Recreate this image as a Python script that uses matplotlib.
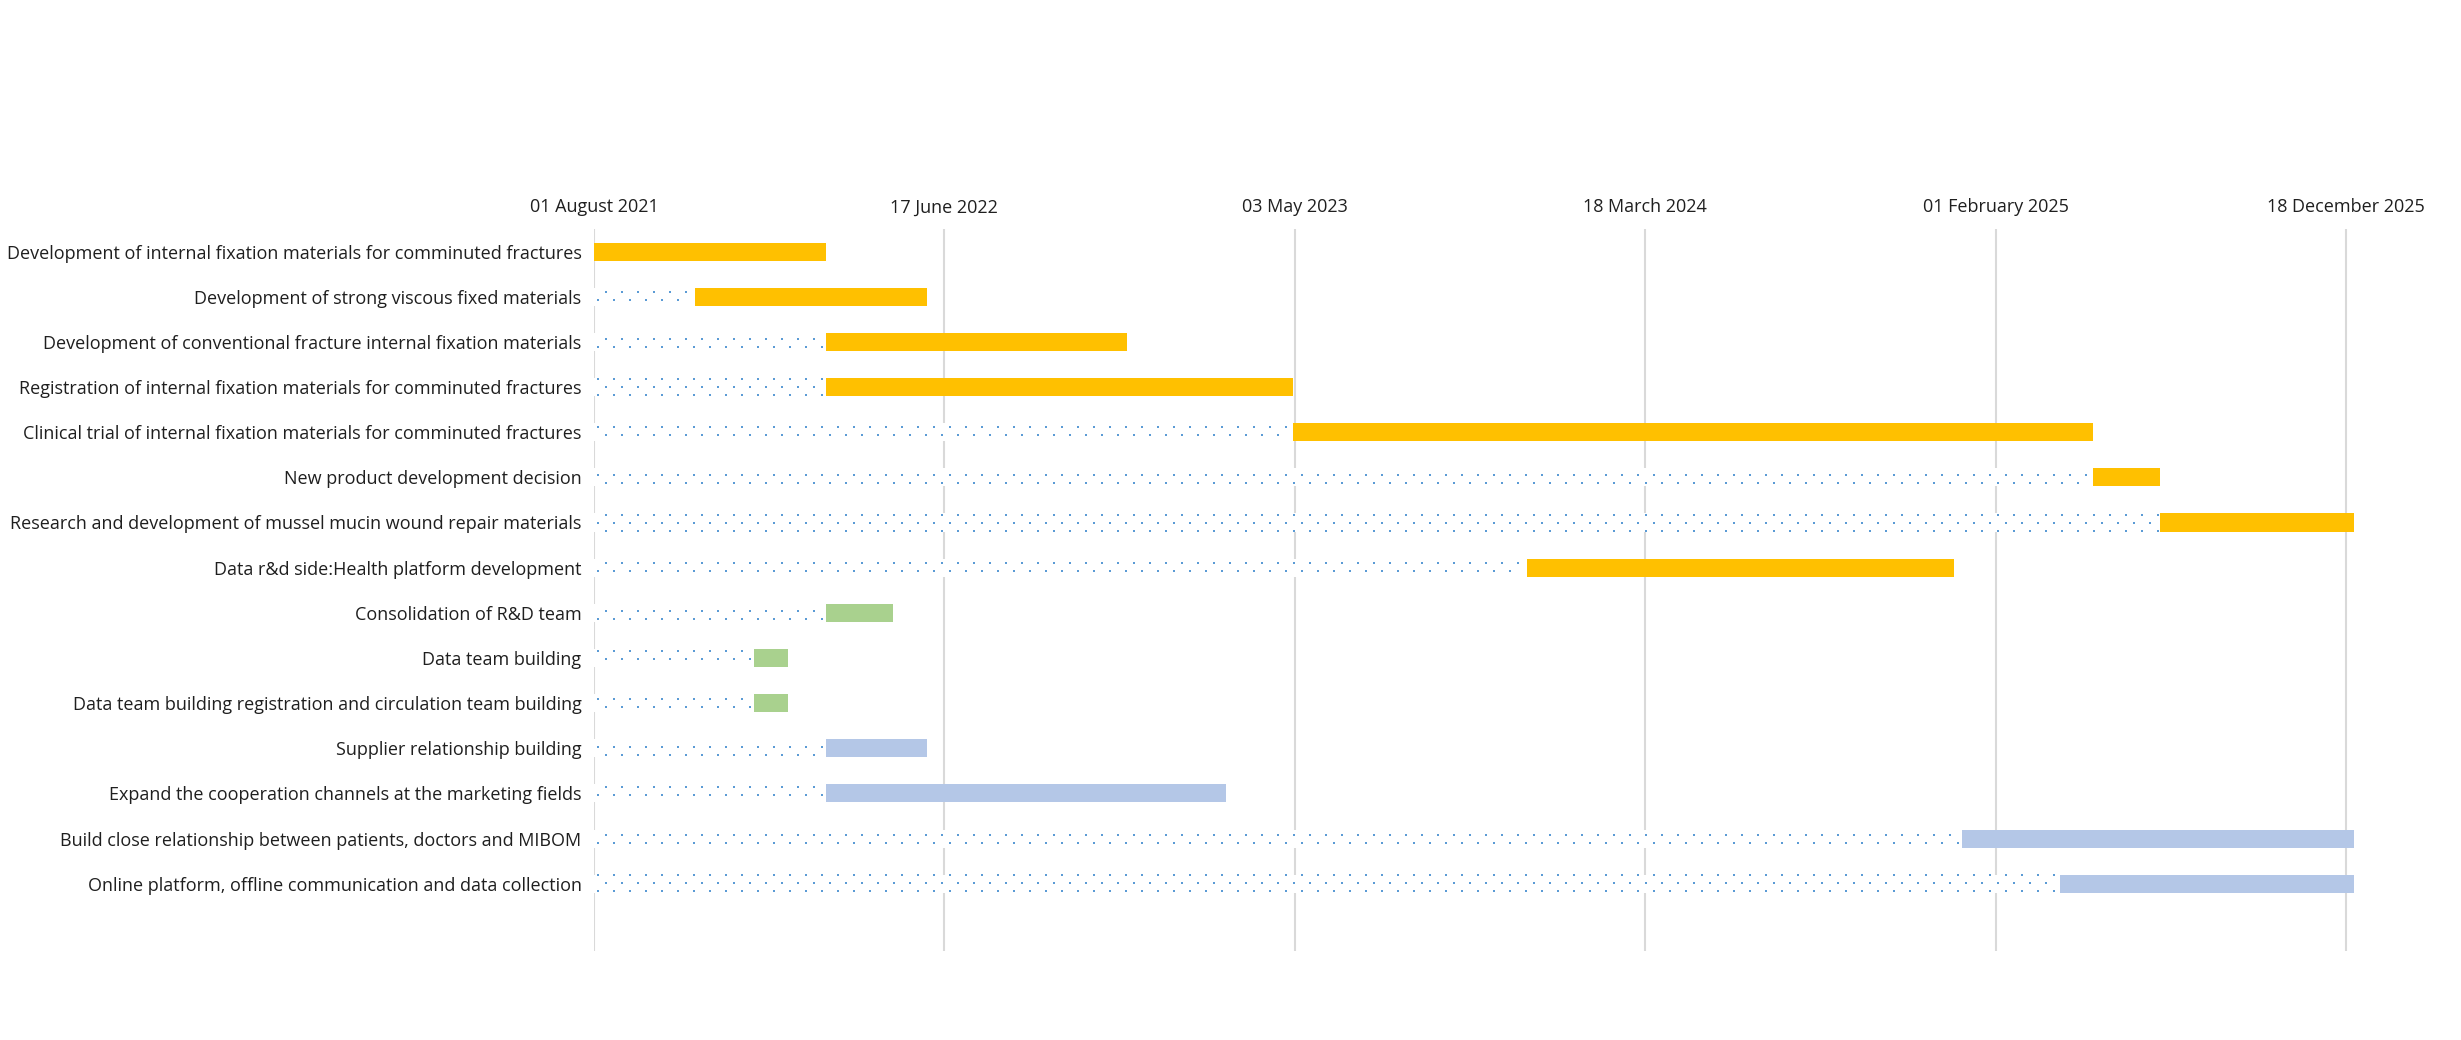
import matplotlib

matplotlib.use("Agg")
import matplotlib.dates as mdates
import matplotlib.pyplot as plt
import numpy as np

tasks = [
    "Development of internal fixation materials for comminuted fractures",
    "Development of strong viscous fixed materials",
    "Development of conventional fracture internal fixation materials",
    "Registration of internal fixation materials for comminuted fractures",
    "Clinical trial of internal fixation materials for comminuted fractures",
    "New product development decision",
    "Research and development of mussel mucin wound repair materials",
    "Data r&d side:Health platform development",
    "Consolidation of R&D team",
    "Data team building",
    "Data team building registration and circulation team building",
    "Supplier relationship building",
    "Expand the cooperation channels at the marketing fields",
    "Build close relationship between patients, doctors and MIBOM",
    "Online platform, offline communication and data collection",
]
starts = [
    "2021-08-01", "2021-11-01", "2022-03-01", "2022-03-01", "2023-05-01",
    "2025-05-01", "2025-07-01", "2023-12-01", "2022-03-01", "2021-12-25",
    "2021-12-25", "2022-03-01", "2022-03-01", "2025-01-01", "2025-04-01",
]
ends = [
    "2022-03-01", "2022-06-01", "2022-12-01", "2023-05-01", "2025-05-01",
    "2025-07-01", "2025-12-25", "2024-12-25", "2022-05-01", "2022-01-25",
    "2022-01-25", "2022-06-01", "2023-03-01", "2025-12-25", "2025-12-25",
]
groups = ["rd"] * 8 + ["team"] * 3 + ["market"] * 4
colores = {"rd": "#FFC000", "team": "#A9D18E", "market": "#B4C7E7"}

inicio_eje = "2021-08-01"
paso_ticks = 320  # dias entre etiquetas del eje
n_ticks = 6

plt.rcParams["font.family"] = ["Open Sans", "DejaVu Sans"]

d0 = mdates.datestr2num(inicio_eje)
ini = mdates.datestr2num(starts)
fin = mdates.datestr2num(ends)
filas = np.arange(len(tasks))

# escala: ~1.095 px por dia, 45.2 px por fila
W, H = 2461, 1040
dias_vista = 1650
fig = plt.figure(figsize=(W / 100, H / 100), dpi=100)
ax = fig.add_axes([594 / W, 89 / H, dias_vista * 1.095 / W, 722 / H])

alto = 0.4
# tramo previo: relleno blanco con puntos (como el patron 5% de Excel)
ax.barh(filas, ini - d0, left=d0, height=alto, color="white", zorder=2)
ax.barh(filas, fin - ini, left=ini, height=alto,
        color=[colores[g] for g in groups], zorder=3)

dx = 16 / 1.095   # dias entre puntos
dy = 8 / 45.2     # filas entre lineas de puntos
px, py = [], []
for i in filas:
    j0 = int(np.ceil((i - alto / 2) / dy))
    j1 = int(np.floor((i + alto / 2) / dy))
    for j in range(j0, j1 + 1):
        xs = np.arange(d0 + 4 / 1.095 + (dx / 2) * (j % 2), ini[i] - 1, dx)
        px.extend(xs)
        py.extend([j * dy] * len(xs))
ax.scatter(px, py, s=2.2, marker="s", color="#5B9BD5", linewidths=0, zorder=4)

ax.set_xlim(d0, d0 + dias_vista)
ax.set_ylim(15.49, -0.5)
ax.set_xticks(d0 + np.arange(n_ticks) * paso_ticks)
ax.xaxis.set_major_formatter(mdates.DateFormatter("%d %B %Y"))
ax.xaxis.tick_top()
ax.set_yticks(filas, tasks)
ax.tick_params(axis="both", length=0, labelsize=13, labelcolor="#1F1F1F")
ax.tick_params(axis="x", pad=9)
ax.tick_params(axis="y", pad=9)
ax.grid(axis="x", color="#D9D9D9", linewidth=1.5, zorder=1)
ax.set_axisbelow(True)
for s in ax.spines.values():
    s.set_visible(False)

fig.savefig("out.png", dpi=100, facecolor="white")
